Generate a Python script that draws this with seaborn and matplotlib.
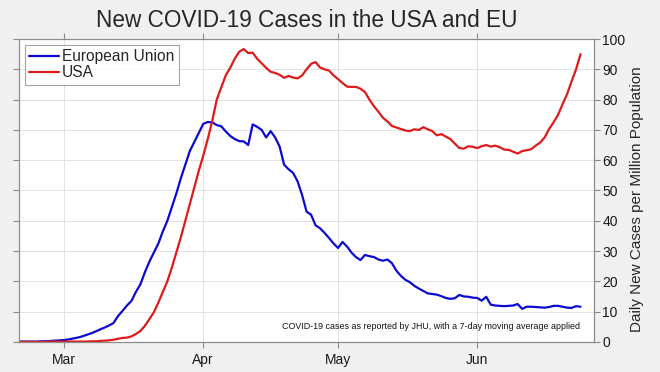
import numpy as np
import pandas as pd
import matplotlib.pyplot as plt
import matplotlib.dates as mdates
import seaborn as sns

# daily values, Feb 20 .. Jun 24 2020 (7-day avg, cases per million)
dates = pd.date_range("2020-02-20", "2020-06-24", freq="D")

eu = [0.1, 0.1, 0.1, 0.1, 0.1, 0.2, 0.2, 0.3, 0.4, 0.5,
      0.6, 0.8, 1.1, 1.4, 1.8, 2.3, 2.8, 3.4, 4.1, 4.7,
      5.4, 6.2, 8.5, 10.2, 12.0, 13.5, 16.5, 19.0, 23.0, 26.5,
      29.5, 32.5, 36.5, 40.0, 44.5, 49.0, 54.0, 58.5, 63.0, 66.0,
      69.0, 72.0, 72.6, 72.5, 71.6, 71.2, 69.5, 68.0, 67.0, 66.3,
      66.2, 65.0, 71.8, 71.0, 70.0, 67.5, 69.6, 67.5, 64.5, 58.5,
      57.0, 55.8, 53.0, 48.5, 43.0, 42.0, 38.5, 37.5, 36.0, 34.3,
      32.5, 31.0, 33.0, 31.5, 29.5, 28.0, 27.0, 28.7, 28.3, 28.0,
      27.2, 26.8, 27.2, 26.0, 23.5, 21.8, 20.5, 19.7, 18.5, 17.6,
      16.8, 16.0, 15.8, 15.6, 15.1, 14.5, 14.2, 14.4, 15.5, 15.0,
      14.9, 14.6, 14.5, 13.6, 14.9, 12.3, 12.0, 11.9, 11.8, 11.9,
      12.0, 12.5, 10.9, 11.6, 11.6, 11.5, 11.4, 11.3, 11.5, 11.9,
      11.9, 11.6, 11.3, 11.2, 11.8, 11.6]

usa = [0.0, 0.0, 0.0, 0.0, 0.0, 0.0, 0.0, 0.1, 0.1, 0.1,
       0.1, 0.1, 0.1, 0.1, 0.1, 0.1, 0.2, 0.2, 0.3, 0.4,
       0.5, 0.7, 1.0, 1.3, 1.4, 1.8, 2.6, 3.6, 5.3, 7.5,
       9.8, 13.0, 16.5, 20.0, 24.5, 29.5, 34.5, 40.0, 45.5, 51.0,
       56.5, 61.5, 67.0, 73.0, 80.0, 84.0, 88.0, 90.5, 93.5, 95.8,
       96.7, 95.4, 95.5, 93.5, 92.0, 90.5, 89.2, 88.8, 88.2, 87.2,
       87.8, 87.3, 87.0, 88.0, 90.0, 91.8, 92.4, 90.6, 90.0, 89.6,
       88.0, 86.8, 85.5, 84.3, 84.2, 84.2, 83.6, 82.5, 80.0, 77.8,
       76.0, 74.0, 72.8, 71.3, 70.8, 70.3, 69.8, 69.6, 70.2, 70.0,
       70.9, 70.2, 69.6, 68.2, 68.6, 67.8, 67.0, 65.5, 64.0, 63.8,
       64.6, 64.4, 64.0, 64.6, 65.0, 64.5, 64.8, 64.3, 63.5, 63.4,
       62.8, 62.2, 63.0, 63.3, 63.6, 64.8, 65.8, 67.5, 70.3, 72.5,
       75.0, 78.5, 81.8, 86.0, 90.0, 95.0]

regions = ["European Union", "USA"]
colors = ["#0a0ad2", "#e01a1a"]

df = pd.concat([
    pd.DataFrame({"date": dates, "cases": eu, "region": regions[0]}),
    pd.DataFrame({"date": dates, "cases": usa, "region": regions[1]}),
])

sns.set_style("whitegrid")
plt.rcParams["font.family"] = ["Liberation Sans", "DejaVu Sans"]

fig = plt.figure(figsize=(6.6, 3.72), dpi=100, facecolor="#f0f0f0")
ax = fig.add_axes([0.029, 0.081, 0.871, 0.814])

sns.lineplot(data=df, x="date", y="cases", hue="region",
             palette=dict(zip(regions, colors)), linewidth=1.6, ax=ax)

ax.set_xlim(pd.Timestamp("2020-02-20"), pd.Timestamp("2020-06-27"))
ax.set_ylim(0, 100)
ax.set_yticks(range(0, 101, 10))
ax.xaxis.set_major_locator(mdates.MonthLocator())
ax.xaxis.set_major_formatter(mdates.DateFormatter("%b"))

ax.yaxis.tick_right()
ax.yaxis.set_label_position("right")
ax.tick_params(axis="both", which="both", direction="out", length=4,
               width=0.8, color="#8c8c8c", labelsize=10, labelcolor="#1a1a1a",
               top=True, bottom=True, left=True, right=True,
               labelleft=False, labelright=True, pad=2)
ax.tick_params(axis="x", pad=4)
ax.grid(True, color="#e2e2e2", linewidth=0.7)
for s in ax.spines.values():
    s.set_visible(True)
    s.set_color("#8c8c8c")
    s.set_linewidth(0.9)

ax.set_xlabel("")
ax.set_ylabel("Daily New Cases per Million Population", fontsize=11, labelpad=7)
ax.yaxis.set_label_coords(1.063, 0.47)
ax.set_title("New COVID-19 Cases in the USA and EU", fontsize=16.3, pad=9)

leg = ax.legend(loc="upper left", fontsize=11.2, frameon=True, fancybox=False,
                handlelength=1.9, handletextpad=0.2, borderpad=0.3,
                labelspacing=0.05, borderaxespad=0.35)
leg.get_frame().set_edgecolor("#8c8c8c")
leg.get_frame().set_linewidth(0.8)

ax.text(0.976, 0.05, "COVID-19 cases as reported by JHU, with a 7-day moving average applied",
        transform=ax.transAxes, ha="right", va="center", fontsize=6.4, color="#111111")

fig.savefig("out.png", dpi=100, facecolor=fig.get_facecolor())
